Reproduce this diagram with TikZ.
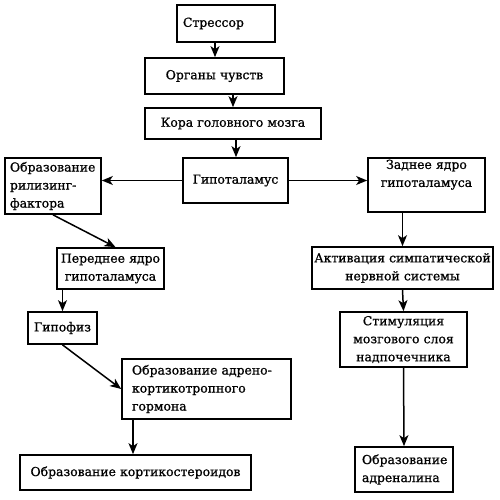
\documentclass[tikz,border=0pt]{standalone}
\usepackage{fontspec}
\newfontfamily\boxfont{DejaVu Serif}[FakeBold=0.9,WordSpace=1.4]
\usetikzlibrary{arrows.meta}
\begin{document}
\begin{tikzpicture}[x=1pt,y=-1pt,
  box/.style={draw, line width=1.7pt, inner sep=0pt, font=\boxfont\fontsize{12.4}{18}\selectfont},
  arr/.style={line width=1.5pt, -{Stealth[length=11pt,width=9pt,inset=3pt]}}]
\useasboundingbox (0,0) rectangle (500,500);
% boxes
\node[box, minimum width=98pt, minimum height=37pt, text width=86pt, align=left] (b1) at (226,23.5) {Стрессор};
\node[box, minimum width=139pt, minimum height=36pt, text width=131pt, align=center] (b2) at (214.5,76) {Органы чувств};
\node[box, minimum width=176pt, minimum height=31pt, text width=170pt, align=center] (b3) at (233,123.5) {Кора головного мозга};
\node[box, minimum width=105pt, minimum height=45pt, text width=99pt, align=center] (b4) at (235.5,180.5) {Гипоталамус};
\node[box, minimum width=96pt, minimum height=56pt, text width=86pt, align=left] (b5) at (53,186) {Образование\\рилизинг-\\фактора};
\node[box, minimum width=117pt, minimum height=54pt, text width=111pt, align=center] (b6) at (426.5,185) {Заднее ядро\\гипоталамуса\\\strut};
\node[box, minimum width=107pt, minimum height=41pt, text width=105pt, align=center] (b7) at (110.5,268.5) {Переднее ядро\\гипоталамуса};
\node[box, minimum width=69pt, minimum height=32pt, text width=65pt, align=center] (b8) at (62.5,328) {Гипофиз};
\node[box, minimum width=169pt, minimum height=60pt, text width=149pt, align=left] (b9) at (206.5,389) {Образование адрено-\\кортикотропного\\гормона};
\node[box, minimum width=231pt, minimum height=35pt, text width=227pt, align=center] (b10) at (135.5,472.5) {Образование кортикостероидов};
\node[box, minimum width=181pt, minimum height=42pt, text width=181pt, align=center] (b11) at (402.5,268) {Активация симпатической\\нервной системы};
\node[box, minimum width=127pt, minimum height=55pt, text width=123pt, align=center] (b12) at (403.5,339.5) {Стимуляция\\мозгового слоя\\надпочечника};
\node[box, minimum width=98pt, minimum height=45pt, text width=84pt, align=left] (b13) at (404,469.5) {Образование\\адреналина};
% connectors
\draw[arr] ([xshift=-11pt]b1.south) -- ([xshift=0.5pt]b2.north);
\draw[arr] ([xshift=18.5pt]b2.south) -- (b3.north);
\draw[arr] ([xshift=3pt]b3.south) -- ([xshift=0.5pt]b4.north);
\draw[arr] (b4.west) -- (b4.west -| b5.east);
\draw[arr] (b4.east) -- (b4.east -| b6.west);
\draw[arr] (b5.south) -- ([xshift=5pt]b7.north);
\draw[arr] (b8.north |- b7.south) -- (b8.north);
\draw[arr] (b8.south) -- (b9.west);
\draw[arr] ([xshift=-2.5pt]b10.north |- b9.south) -- ([xshift=-2.5pt]b10.north);
\draw[arr] (b11.north |- b6.south) -- (b11.north);
\draw[arr] (b11.south) -- (b12.north);
\draw[arr] (b12.south) -- (b13.north);
\end{tikzpicture}
\end{document}
